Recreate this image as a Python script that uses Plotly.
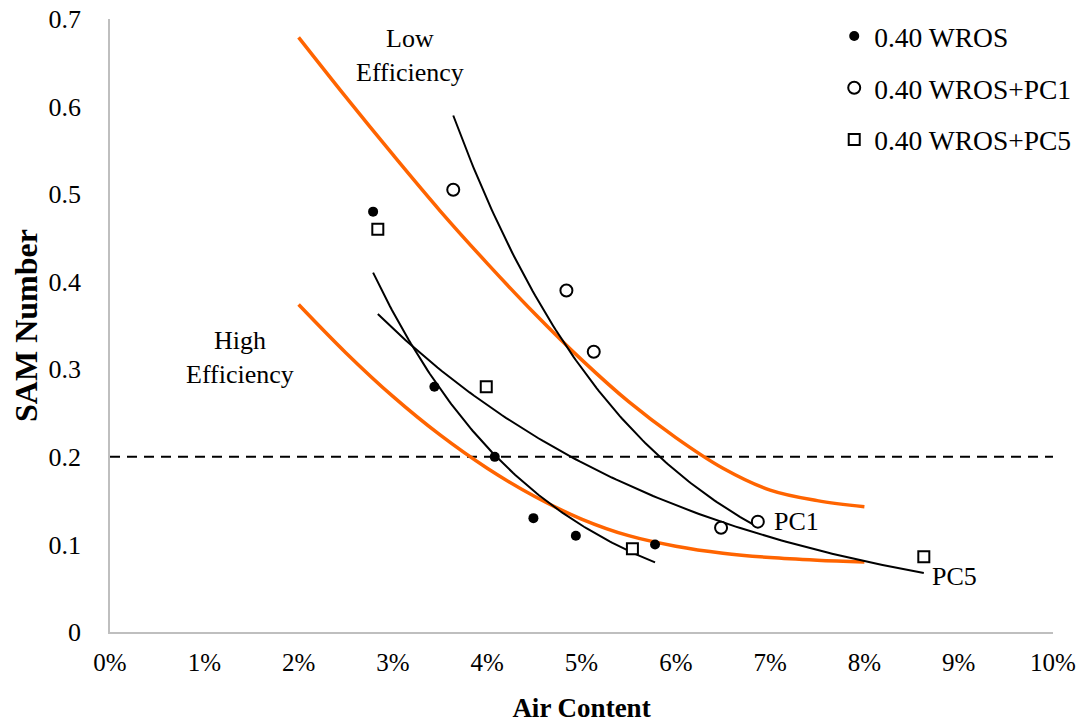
import numpy as np
import plotly.graph_objects as go

# Measured points: air content (%) and SAM number
wros_air = [2.79, 3.44, 4.08, 4.49, 4.94, 5.78]
wros_sam = [0.48, 0.28, 0.20, 0.13, 0.11, 0.10]

pc1_air = [3.64, 4.84, 5.13, 6.48, 6.87]
pc1_sam = [0.505, 0.39, 0.32, 0.119, 0.126]

pc5_air = [2.84, 3.99, 5.54, 8.63]
pc5_sam = [0.46, 0.28, 0.095, 0.086]

# Efficiency boundary curves
bound_air = [2.0, 2.5, 3.0, 3.5, 4.0, 4.5, 5.0, 5.5, 6.0, 6.5, 7.0, 7.5, 8.0]
low_eff_sam = [0.679, 0.611, 0.545, 0.481, 0.421, 0.364, 0.311, 0.263, 0.222,
               0.187, 0.162, 0.150, 0.143]
high_eff_sam = [0.374, 0.319, 0.269, 0.225, 0.187, 0.155, 0.129, 0.110, 0.098,
                0.090, 0.085, 0.082, 0.080]

sam_limit = 0.20

y_ticks = [0, 0.1, 0.2, 0.3, 0.4, 0.5, 0.6, 0.7]
y_tick_text = ["0", "0.1", "0.2", "0.3", "0.4", "0.5", "0.6", "0.7"]
x_ticks = list(range(0, 11))
x_tick_text = [f"{v}%" for v in x_ticks]

FONT = "Liberation Serif"
ORANGE = "#ff6400"


def exp_trend(x, y, n=120):
    """Exponential least-squares trend (linear fit of ln y)."""
    b, ln_a = np.polyfit(np.asarray(x), np.log(np.asarray(y)), 1)
    xs = np.linspace(min(x), max(x), n)
    return xs, np.exp(ln_a + b * xs)


fig = go.Figure()

# boundary curves
for ys in (low_eff_sam, high_eff_sam):
    fig.add_trace(go.Scatter(x=bound_air, y=ys, mode="lines",
                             line=dict(color=ORANGE, width=3.5, shape="spline",
                                       smoothing=1.0),
                             showlegend=False, hoverinfo="skip"))

# trend lines
for xa, ya in ((wros_air, wros_sam), (pc1_air, pc1_sam), (pc5_air, pc5_sam)):
    tx, ty = exp_trend(xa, ya)
    fig.add_trace(go.Scatter(x=tx, y=ty, mode="lines",
                             line=dict(color="black", width=2),
                             showlegend=False, hoverinfo="skip"))

# measured points
fig.add_trace(go.Scatter(x=wros_air, y=wros_sam, mode="markers", name="0.40 WROS",
                         legendgroup="a",
                         marker=dict(symbol="circle", size=10, color="black")))
fig.add_trace(go.Scatter(x=pc1_air, y=pc1_sam, mode="markers", name="0.40 WROS+PC1",
                         legendgroup="b",
                         marker=dict(symbol="circle", size=12, color="white",
                                     line=dict(color="black", width=2))))
fig.add_trace(go.Scatter(x=pc5_air, y=pc5_sam, mode="markers", name="0.40 WROS+PC5",
                         legendgroup="c",
                         marker=dict(symbol="square", size=11, color="white",
                                     line=dict(color="black", width=2))))

fig.add_hline(y=sam_limit, line=dict(color="black", width=2, dash="10px,7px"),
              layer="below")

ann_font = dict(family=FONT, size=26, color="black")
fig.add_annotation(x=3.18, y=0.658, text="Low<br>Efficiency", showarrow=False,
                   font=ann_font, align="center")
fig.add_annotation(x=1.38, y=0.314, text="High<br>Efficiency", showarrow=False,
                   font=ann_font, align="center")
fig.add_annotation(x=7.02, y=0.126, text="PC1", showarrow=False, font=ann_font,
                   xanchor="left")
fig.add_annotation(x=8.70, y=0.063, text="PC5", showarrow=False, font=ann_font,
                   xanchor="left")

fig.update_layout(
    width=1092, height=725,
    margin=dict(l=110, r=39, t=19, b=93),
    paper_bgcolor="white", plot_bgcolor="white",
    font=dict(family=FONT, color="black"),
    legend=dict(x=0.768, y=1.012, xanchor="left", yanchor="top",
                font=dict(family=FONT, size=27.5, color="black"),
                tracegroupgap=13, bgcolor="rgba(0,0,0,0)"),
    xaxis=dict(range=[0, 10], tickvals=x_ticks, ticktext=x_tick_text,
               showline=True, linecolor="#bfbfbf", linewidth=1.5,
               showgrid=False, zeroline=False, ticks="",
               ticklabelstandoff=7, automargin=False,
               tickfont=dict(family=FONT, size=25),
               title=dict(text="<b>Air Content</b>", standoff=23,
                          font=dict(family=FONT, size=27))),
    yaxis=dict(range=[0, 0.7], tickvals=y_ticks, ticktext=y_tick_text,
               showline=True, linecolor="#bfbfbf", linewidth=1.5,
               showgrid=False, zeroline=False, ticks="",
               ticklabelstandoff=22, automargin=False,
               tickfont=dict(family=FONT, size=26),
               title=dict(text="<b>SAM Number</b>", standoff=1,
                          font=dict(family=FONT, size=32))),
)

fig.write_html("out.html")
